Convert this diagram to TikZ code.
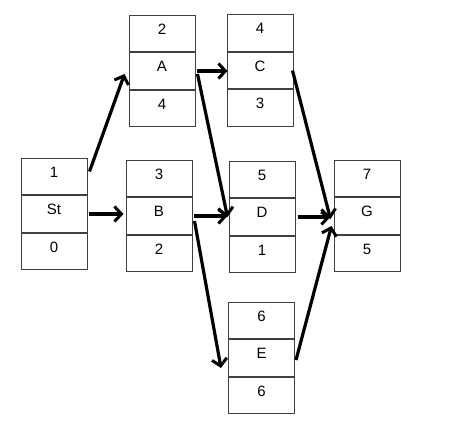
\documentclass[tikz,border=0pt]{standalone}
\usepackage{fontspec}
\setmainfont{Liberation Sans}
\usetikzlibrary{arrows.meta,positioning}
\begin{document}
\begin{tikzpicture}[x=1pt,y=-1pt,
  cell/.style={draw=black!75, line width=1pt, rectangle, minimum width=66pt, minimum height=36.5pt, inner sep=0pt,
    text height=10.5pt, text depth=8.5pt, font=\fontsize{15pt}{17pt}\selectfont},
  arr/.style={line width=3.2pt, -{Straight Barb[length=7pt,width=15pt,line width=3pt]}}]
\useasboundingbox (0,0) rectangle (466,430);
\node[cell] (A-t) at (162,33.5) {2};
\node[cell, below=0pt of A-t] (A-m) {A};
\node[cell, below=0pt of A-m] (A-b) {4};
\node[cell] (C-t) at (260,33) {4};
\node[cell, below=0pt of C-t] (C-m) {C};
\node[cell, below=0pt of C-m] (C-b) {3};
\node[cell] (St-t) at (54,176.5) {1};
\node[cell, below=0pt of St-t] (St-m) {St};
\node[cell, below=0pt of St-m] (St-b) {0};
\node[cell] (B-t) at (159,178.5) {3};
\node[cell, below=0pt of B-t] (B-m) {B};
\node[cell, below=0pt of B-m] (B-b) {2};
\node[cell] (D-t) at (262,179.5) {5};
\node[cell, below=0pt of D-t] (D-m) {D};
\node[cell, below=0pt of D-m] (D-b) {1};
\node[cell] (G-t) at (367,178.5) {7};
\node[cell, below=0pt of G-t] (G-m) {G};
\node[cell, below=0pt of G-m] (G-b) {5};
\node[cell] (E-t) at (261.5,320.5) {6};
\node[cell, below=0pt of E-t] (E-m) {E};
\node[cell, below=0pt of E-m] (E-b) {6};
% arrows
\draw[arr] ([shift={(2pt,5pt)}]St-t.east) -- ([shift={(-4pt,-3pt)}]A-m.west);
\draw[arr] ([xshift=1pt]St-m.east) -- ([xshift=-2pt]St-m.east -| B-m.west);
\draw[arr] ([xshift=1pt]A-m.east) -- ([xshift=1pt]A-m.east -| C-m.west);
\draw[arr] ([shift={(2pt,-3pt)}]A-m.east) -- ([xshift=-1pt]D-m.west);
\draw[arr] ([xshift=1pt]B-m.east) -- ([xshift=-1pt]B-m.east -| D-m.west);
\draw[arr] ([shift={(2pt,-5pt)}]B-m.east) -- ([shift={(-7pt,-10pt)}]E-m.west);
\draw[arr] ([shift={(-1pt,0pt)}]C-m.east) -- ([shift={(-3pt,-3pt)}]G-m.west);
\draw[arr] ([xshift=2pt]D-m.east) -- ([xshift=-3pt]D-m.east -| G-m.west);
\draw[arr] ([shift={(1pt,-2pt)}]E-m.east) -- ([shift={(-2pt,-10pt)}]G-m.west);
\end{tikzpicture}
\end{document}
